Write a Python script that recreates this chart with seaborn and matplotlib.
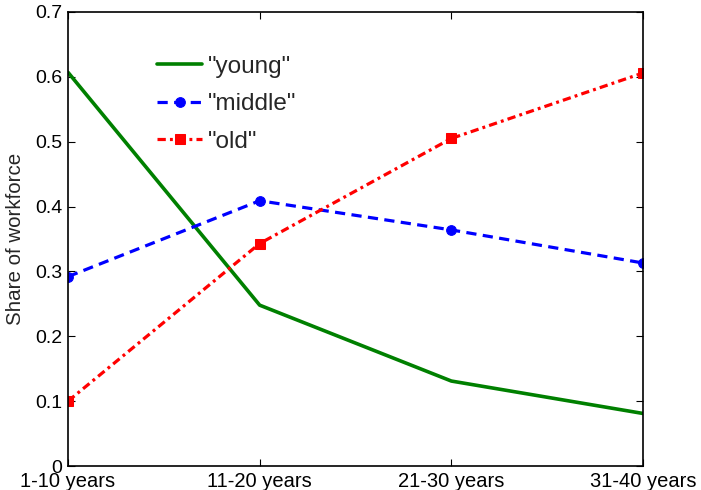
import matplotlib
matplotlib.use("Agg")
import matplotlib.pyplot as plt
import seaborn as sns
import pandas as pd

categories = ["1-10 years", "11-20 years", "21-30 years", "31-40 years"]
young = [0.607, 0.248, 0.131, 0.081]
middle = [0.292, 0.409, 0.364, 0.313]
old = [0.100, 0.343, 0.505, 0.606]

sns.set_style("white")
plt.rcParams['font.family'] = ['Liberation Sans', 'DejaVu Sans']

fig = plt.figure(figsize=(7.01, 4.90), dpi=100)
ax = fig.add_axes([68/701, 1-466/490, (643-68)/701, (466-12)/490])

xs = list(range(len(categories)))
df = pd.DataFrame({"x": xs, "young": young, "middle": middle, "old": old})

sns.lineplot(data=df, x="x", y="young", ax=ax, color="#008000", lw=2.6,
             label='"young"')
sns.lineplot(data=df, x="x", y="middle", ax=ax, color="#0000ff", lw=2.3,
             marker="o", markersize=7, markeredgecolor="#0000ff",
             label='"middle"')
sns.lineplot(data=df, x="x", y="old", ax=ax, color="#ff0000", lw=2.3,
             marker="s", markersize=7, markeredgecolor="#ff0000",
             label='"old"')
ax.lines[1].set_dashes((3.2, 2.0))
ax.lines[2].set_dashes((2.6, 1.3, 0.9, 1.3))

ax.set_xlim(0, 3)
ax.set_ylim(0, 0.7)
ax.set_xticks(xs)
ax.set_xticklabels(categories)
ax.set_yticks([0, 0.1, 0.2, 0.3, 0.4, 0.5, 0.6, 0.7])
ax.set_yticklabels(["0", "0.1", "0.2", "0.3", "0.4", "0.5", "0.6", "0.7"])
ax.tick_params(axis="both", direction="in", length=5, width=0.8,
               top=True, right=True, bottom=True, left=True, colors="black")
ax.tick_params(axis="x", labelsize=14.5, pad=4)
ax.tick_params(axis="y", labelsize=14, pad=4)
ax.set_xlabel("")
ax.set_ylabel("Share of workforce", fontsize=14.8)
ax.yaxis.set_label_coords(-0.074, 0.5)
for s in ax.spines.values():
    s.set_color("black")
    s.set_linewidth(1.2)

leg = ax.legend(loc="upper left", bbox_to_anchor=(0.155, 0.904), frameon=False,
                fontsize=17.5, handlelength=1.85, handletextpad=0.22,
                labelspacing=0.64, borderpad=0, borderaxespad=0)

fig.savefig("out.png", dpi=100)
